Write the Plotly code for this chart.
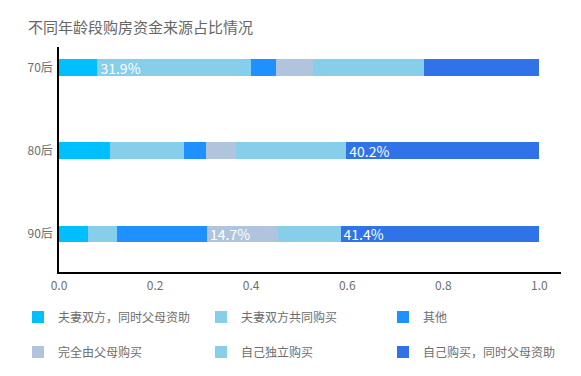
import plotly.graph_objects as go

categories = ["70后", "80后", "90后"]
series_names = ["夫妻双方，同时父母资助", "夫妻双方共同购买", "其他",
                "完全由父母购买", "自己独立购买", "自己购买，同时父母资助"]
s1 = [0.080, 0.106, 0.060]
s2 = [0.319, 0.154, 0.061]
s3 = [0.052, 0.046, 0.187]
s4 = [0.077, 0.063, 0.147]
s5 = [0.231, 0.229, 0.131]
s6 = [0.241, 0.402, 0.414]
series_values = [s1, s2, s3, s4, s5, s6]
# labels shown on the chart (None = no label)
labels = [
    [None, None, None],
    ["31.9%", None, None],
    [None, None, None],
    [None, None, "14.7%"],
    [None, None, None],
    [None, "40.2%", "41.4%"],
]
colors = ["#00BFFF", "#87CEEB", "#1E90FF", "#B0C4DE", "#87CEEB", "#3073E9"]
x_ticks = [0.0, 0.2, 0.4, 0.6, 0.8, 1.0]

FONT = "Noto Sans CJK SC, Open Sans, sans-serif"
GRAY = "#6E6E6E"
W, H = 573, 368  # page body has an 8px default margin

legend_names = ["legend", "legend2", "legend3", "legend4", "legend5", "legend6"]
col_x = [10, 193, 375]
row_y = [309, 344]

fig = go.Figure()
for i, (name, vals) in enumerate(zip(series_names, series_values)):
    fig.add_trace(go.Bar(
        y=categories, x=vals, name=name, orientation="h",
        marker=dict(color=colors[i], line=dict(width=0)),
        width=0.2,
        text=[t if t else "" for t in labels[i]],
        textposition="inside", insidetextanchor="start",
        textfont=dict(color="white", size=14, family=FONT),
        constraintext="none", cliponaxis=False,
        hoverinfo="x+name",
        legend=legend_names[i],
    ))

legends = {}
for i, ln in enumerate(legend_names):
    legends[ln] = dict(
        orientation="v", xref="container", yref="container",
        x=col_x[i % 3] / W, y=1 - row_y[i // 3] / H,
        xanchor="left", yanchor="middle",
        font=dict(size=12, color=GRAY), bgcolor="rgba(0,0,0,0)",
    )

fig.update_layout(
    width=W, height=H,
    barmode="stack",
    paper_bgcolor="white", plot_bgcolor="white",
    margin=dict(l=51, r=20, t=39, b=104, autoexpand=False),
    font=dict(family=FONT, color=GRAY, size=12),
    title=dict(text="不同年龄段购房资金来源占比情况", x=20 / W, xanchor="left",
               y=1 - 20 / H, yanchor="middle",
               font=dict(size=15, color="#666666", family=FONT)),
    xaxis=dict(range=[0, 1.045], tickvals=x_ticks, tickformat=".1f",
               showgrid=False, zeroline=False, showline=True,
               linecolor="black", linewidth=1.5, ticks="", automargin=False,
               ticklabelstandoff=2,
               tickfont=dict(size=12, color=GRAY)),
    yaxis=dict(type="category", range=[2.46, -0.25], showgrid=False,
               zeroline=False, showline=True, linecolor="black", linewidth=1.5,
               ticks="", ticklabelstandoff=2, automargin=False,
               tickfont=dict(size=12, color=GRAY)),
    showlegend=True,
    **legends,
)

fig.write_html("out.html")
